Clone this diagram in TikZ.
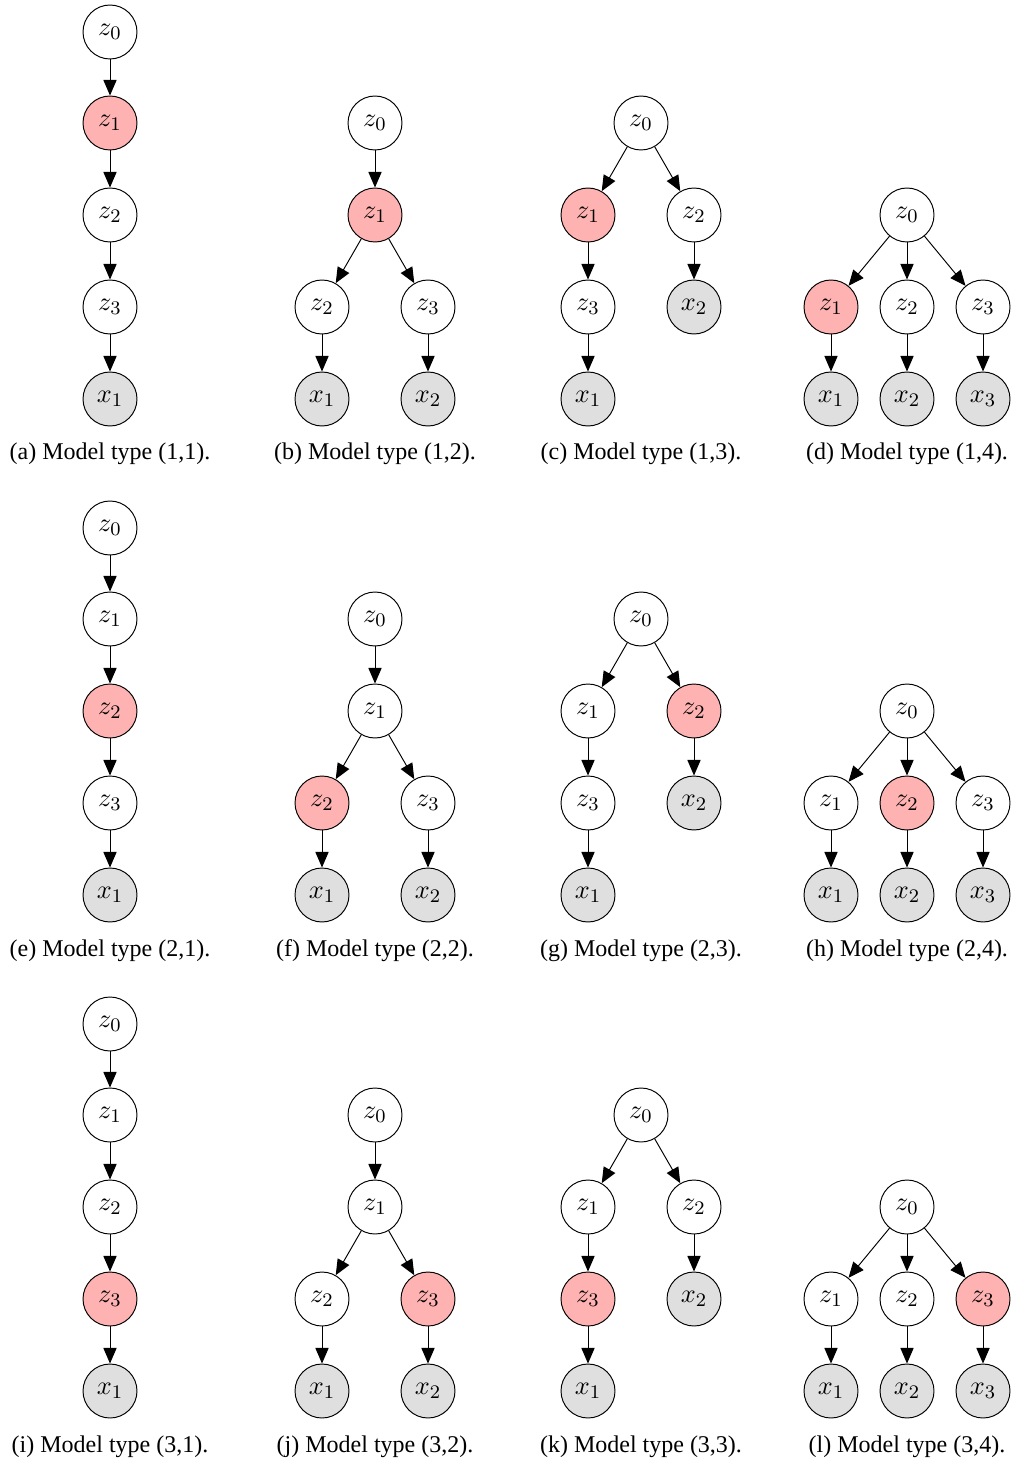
\documentclass[tikz,border=0pt]{standalone}
\usepackage{fontspec}
\setmainfont{Liberation Serif}
\usetikzlibrary{arrows.meta}

\tikzset{
    latent/.style={circle, draw, minimum size=22.5pt, inner sep=0pt, fill=white,
        font=\fontsize{11}{13}\selectfont},
    obs/.style={latent, fill=gray!25},
    hl/.code={\ifnum#1=\r\relax\pgfkeysalso{fill=red!30}\fi},
    arr/.style={-{Triangle[length=6.5pt,width=5.5pt]}},
    caption/.style={anchor=base, inner sep=0pt},
}

\begin{document}
\begin{tikzpicture}[x=0.4167pt, y=-0.4167pt]
    \useasboundingbox (0,0) rectangle (1012,1462);

    \foreach \r/\dy/\la/\lb/\lc/\ld in {1/0/a/b/c/d, 2/496/e/f/g/h, 3/992/i/j/k/l} {
        \begin{scope}[shift={(0,\dy)}]
            % type (r,1): chain
            \node[latent] (m\r-1-z0) at (110,32) {$z_0$};
            \node[latent, hl=1] (m\r-1-z1) at (110,123) {$z_1$};
            \node[latent, hl=2] (m\r-1-z2) at (110,215) {$z_2$};
            \node[latent, hl=3] (m\r-1-z3) at (110,307) {$z_3$};
            \node[obs] (m\r-1-x1) at (110,399) {$x_1$};
            \draw[arr] (m\r-1-z0) -- (m\r-1-z1);
            \draw[arr] (m\r-1-z1) -- (m\r-1-z2);
            \draw[arr] (m\r-1-z2) -- (m\r-1-z3);
            \draw[arr] (m\r-1-z3) -- (m\r-1-x1);
            \node[caption] (cap\r-1) at (110,460) {(\la) Model type (\r,1).};

            % type (r,2)
            \node[latent] (m\r-2-z0) at (375,123) {$z_0$};
            \node[latent, hl=1] (m\r-2-z1) at (375,215) {$z_1$};
            \node[latent, hl=2] (m\r-2-z2) at (322,307) {$z_2$};
            \node[latent, hl=3] (m\r-2-z3) at (428,307) {$z_3$};
            \node[obs] (m\r-2-x1) at (322,399) {$x_1$};
            \node[obs] (m\r-2-x2) at (428,399) {$x_2$};
            \draw[arr] (m\r-2-z0) -- (m\r-2-z1);
            \draw[arr] (m\r-2-z1) -- (m\r-2-z2);
            \draw[arr] (m\r-2-z1) -- (m\r-2-z3);
            \draw[arr] (m\r-2-z2) -- (m\r-2-x1);
            \draw[arr] (m\r-2-z3) -- (m\r-2-x2);
            \node[caption] (cap\r-2) at (375,460) {(\lb) Model type (\r,2).};

            % type (r,3)
            \node[latent] (m\r-3-z0) at (641,123) {$z_0$};
            \node[latent, hl=1] (m\r-3-z1) at (588,215) {$z_1$};
            \node[latent, hl=2] (m\r-3-z2) at (694,215) {$z_2$};
            \node[latent, hl=3] (m\r-3-z3) at (588,307) {$z_3$};
            \node[obs] (m\r-3-x2) at (694,307) {$x_2$};
            \node[obs] (m\r-3-x1) at (588,399) {$x_1$};
            \draw[arr] (m\r-3-z0) -- (m\r-3-z1);
            \draw[arr] (m\r-3-z0) -- (m\r-3-z2);
            \draw[arr] (m\r-3-z1) -- (m\r-3-z3);
            \draw[arr] (m\r-3-z3) -- (m\r-3-x1);
            \draw[arr] (m\r-3-z2) -- (m\r-3-x2);
            \node[caption] (cap\r-3) at (641,460) {(\lc) Model type (\r,3).};

            % type (r,4)
            \node[latent] (m\r-4-z0) at (907,215) {$z_0$};
            \foreach \i/\xx in {1/831, 2/907, 3/983} {
                \node[latent, hl=\i] (m\r-4-z\i) at (\xx,307) {$z_\i$};
                \node[obs] (m\r-4-x\i) at (\xx,399) {$x_\i$};
                \draw[arr] (m\r-4-z0) -- (m\r-4-z\i);
                \draw[arr] (m\r-4-z\i) -- (m\r-4-x\i);
            }
            \node[caption] (cap\r-4) at (907,460) {(\ld) Model type (\r,4).};
        \end{scope}
    }
\end{tikzpicture}
\end{document}
